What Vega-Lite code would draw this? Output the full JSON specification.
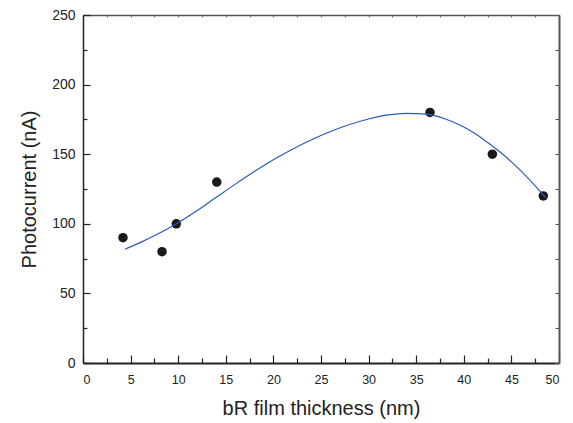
{
  "$schema": "https://vega.github.io/schema/vega-lite/v6.json",
  "width": 476,
  "height": 348,
  "autosize": {"type": "none"},
  "padding": {"left": 83, "top": 15, "right": 14, "bottom": 60},
  "background": "white",
  "config": {"view": {"stroke": null}},
  "datasets": {
    "pts": [
      {"thickness": 4.2, "current": 90},
      {"thickness": 8.3, "current": 80},
      {"thickness": 9.8, "current": 100},
      {"thickness": 14.05, "current": 130},
      {"thickness": 36.45, "current": 180},
      {"thickness": 43.0, "current": 150},
      {"thickness": 48.35, "current": 120}
    ],
    "fit": [
      {"thickness": 4.4, "current": 81.7},
      {"thickness": 6, "current": 86.5},
      {"thickness": 8, "current": 93.2},
      {"thickness": 10, "current": 100.8},
      {"thickness": 12, "current": 109.5},
      {"thickness": 14, "current": 119},
      {"thickness": 16, "current": 128.5},
      {"thickness": 18, "current": 137.6},
      {"thickness": 20, "current": 146},
      {"thickness": 22, "current": 153.6},
      {"thickness": 24, "current": 160.4},
      {"thickness": 26, "current": 166.3},
      {"thickness": 28, "current": 171.3},
      {"thickness": 30, "current": 175.3},
      {"thickness": 32, "current": 178.2},
      {"thickness": 34, "current": 179.4},
      {"thickness": 36, "current": 178.8},
      {"thickness": 38, "current": 175.5},
      {"thickness": 40, "current": 169.5},
      {"thickness": 42, "current": 161},
      {"thickness": 44, "current": 150.5},
      {"thickness": 46, "current": 138},
      {"thickness": 48, "current": 123.5},
      {"thickness": 48.6, "current": 118.8}
    ]
  },
  "layer": [
    {
      "data": {"name": "pts"},
      "mark": {"type": "point", "filled": true, "color": "#1a1a1a", "opacity": 1, "size": 90},
      "encoding": {
        "x": {
          "field": "thickness", "type": "quantitative",
          "scale": {"domain": [0, 50], "nice": false, "zero": false},
          "axis": {
            "orient": "bottom",
            "values": [0, 2.5, 5, 7.5, 10, 12.5, 15, 17.5, 20, 22.5, 25, 27.5, 30, 32.5, 35, 37.5, 40, 42.5, 45, 47.5, 50],
            "labelExpr": "datum.value % 5 === 0 ? datum.label : ''",
            "grid": false,
            "domainColor": "#222", "domainWidth": 2,
            "tickColor": "#222", "tickWidth": 1.2,
            "tickSize": {"condition": {"test": "datum.value % 5 === 0", "value": -8}, "value": -5},
            "labelFont": "Liberation Sans", "labelFontSize": 12.5, "labelColor": "#222",
            "labelPadding": 18,
            "title": "bR film thickness (nm)",
            "titleFont": "Liberation Sans", "titleFontSize": 20, "titleFontWeight": "normal",
            "titleColor": "#222", "titlePadding": 13
          }
        },
        "y": {
          "field": "current", "type": "quantitative",
          "scale": {"domain": [0, 250], "nice": false},
          "axis": {
            "orient": "left",
            "values": [0, 25, 50, 75, 100, 125, 150, 175, 200, 225, 250],
            "labelExpr": "datum.value % 50 === 0 ? datum.label : ''",
            "grid": false,
            "domainColor": "#222", "domainWidth": 1.5,
            "tickColor": "#222", "tickWidth": 1.2,
            "tickSize": {"condition": {"test": "datum.value % 50 === 0", "value": -7}, "value": -4},
            "labelFont": "Liberation Sans", "labelFontSize": 14, "labelColor": "#222",
            "labelPadding": 15,
            "title": "Photocurrent (nA)",
            "titleFont": "Liberation Sans", "titleFontSize": 20, "titleFontWeight": "normal",
            "titleColor": "#222", "titlePadding": 12
          }
        }
      }
    },
    {
      "data": {"name": "fit"},
      "mark": {"type": "line", "color": "#2a5bb8", "strokeWidth": 1.2, "interpolate": "monotone"},
      "encoding": {
        "x": {
          "field": "thickness", "type": "quantitative",
          "axis": {
            "orient": "top",
            "values": [0, 2.5, 5, 7.5, 10, 12.5, 15, 17.5, 20, 22.5, 25, 27.5, 30, 32.5, 35, 37.5, 40, 42.5, 45, 47.5, 50],
            "labels": false, "title": null, "grid": false,
            "domainColor": "#555", "domainWidth": 1.5,
            "tickColor": "#777", "tickWidth": 1, "tickSize": -2
          }
        },
        "y": {
          "field": "current", "type": "quantitative",
          "axis": {
            "orient": "right",
            "values": [0, 25, 50, 75, 100, 125, 150, 175, 200, 225, 250],
            "labels": false, "title": null, "grid": false,
            "domainColor": "#555", "domainWidth": 2,
            "tickColor": "#555", "tickWidth": 1, "tickSize": -4
          }
        }
      }
    }
  ],
  "resolve": {"axis": {"x": "independent", "y": "independent"}}
}
